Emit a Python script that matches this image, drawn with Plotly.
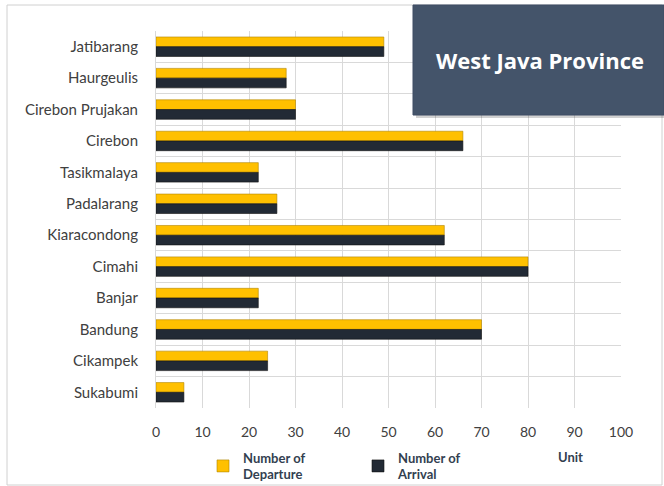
import plotly.graph_objects as go

stations = ["Jatibarang", "Haurgeulis", "Cirebon Prujakan", "Cirebon", "Tasikmalaya",
            "Padalarang", "Kiaracondong", "Cimahi", "Banjar", "Bandung", "Cikampek", "Sukabumi"]
departure = [49, 28, 30, 66, 22, 26, 62, 80, 22, 70, 24, 6]
arrival = [49, 28, 30, 66, 22, 26, 62, 80, 22, 70, 24, 6]
x_ticks = [0, 10, 20, 30, 40, 50, 60, 70, 80, 90, 100]

FONT = "Lato"
L, R, T, B = 156, 43, 31, 78
W, H = 664, 486
PW, PH = W - L - R, H - T - B

def px(x):
    return (x - L) / PW

def py(y):
    return (H - B - y) / PH

fig = go.Figure()
fig.add_trace(go.Bar(
    y=stations, x=departure, orientation="h", name="Number of<br>Departure",
    marker=dict(color="#FFC000", line=dict(color="#B08400", width=0.6)),
))
fig.add_trace(go.Bar(
    y=stations, x=arrival, orientation="h", name="Number of<br>Arrival",
    marker=dict(color="#222A35", line=dict(color="#111111", width=0.6)),
))

shapes = [
    dict(type="rect", xref="paper", yref="paper", x0=px(7), x1=px(662), y0=py(485), y1=py(5),
         line=dict(color="#D0D0D0", width=1), fillcolor="rgba(0,0,0,0)", layer="below"),
    dict(type="rect", xref="paper", yref="paper", x0=px(416), x1=px(667), y0=py(118), y1=py(8),
         line=dict(width=0), fillcolor="rgba(0,0,0,0.18)"),
    dict(type="rect", xref="paper", yref="paper", x0=px(413), x1=px(664), y0=py(115), y1=py(5),
         line=dict(color="#3E4D64", width=1), fillcolor="#44546A"),
]

annotations = [
    dict(text="<b>West Java Province</b>", xref="paper", yref="paper",
         x=px(540), y=py(60), showarrow=False, xanchor="center", yanchor="middle",
         font=dict(family="Open Sans", size=22, color="white")),
    dict(text="<b>Unit</b>", xref="paper", yref="paper",
         x=px(570), y=py(457), showarrow=False, xanchor="center", yanchor="middle",
         font=dict(family=FONT, size=13, color="#333F50")),
]

fig.update_layout(
    width=W, height=H,
    margin=dict(l=L, r=R, t=T, b=B, autoexpand=False),
    paper_bgcolor="white", plot_bgcolor="white",
    barmode="group", bargap=0.38, bargroupgap=0,
    font=dict(family=FONT, size=14, color="#404040"),
    shapes=shapes, annotations=annotations,
    showlegend=True,
    legend=dict(orientation="h", x=px(203), y=py(466), xanchor="left", yanchor="middle",
                font=dict(family=FONT, size=13, color="#333F50", weight="bold"),
                entrywidth=110, entrywidthmode="pixels", bgcolor="rgba(0,0,0,0)"),
    xaxis=dict(range=[0, 100], tickvals=x_ticks, showgrid=True, gridcolor="#D9D9D9",
               gridwidth=1, zeroline=False, showline=False, ticks="", automargin=False,
               ticklabelstandoff=14, tickfont=dict(size=14, color="#404040")),
    yaxis=dict(autorange="reversed", showgrid=True, gridcolor="#D9D9D9", gridwidth=1,
               tickson="boundaries", ticks="", showline=True, linecolor="#D9D9D9",
               automargin=False,
               ticklabelstandoff=14, tickfont=dict(size=15, color="#404040")),
)

fig.write_html("out.html", config={"displayModeBar": False},
               post_script="document.body.style.margin='0';document.body.style.overflow='hidden';")
